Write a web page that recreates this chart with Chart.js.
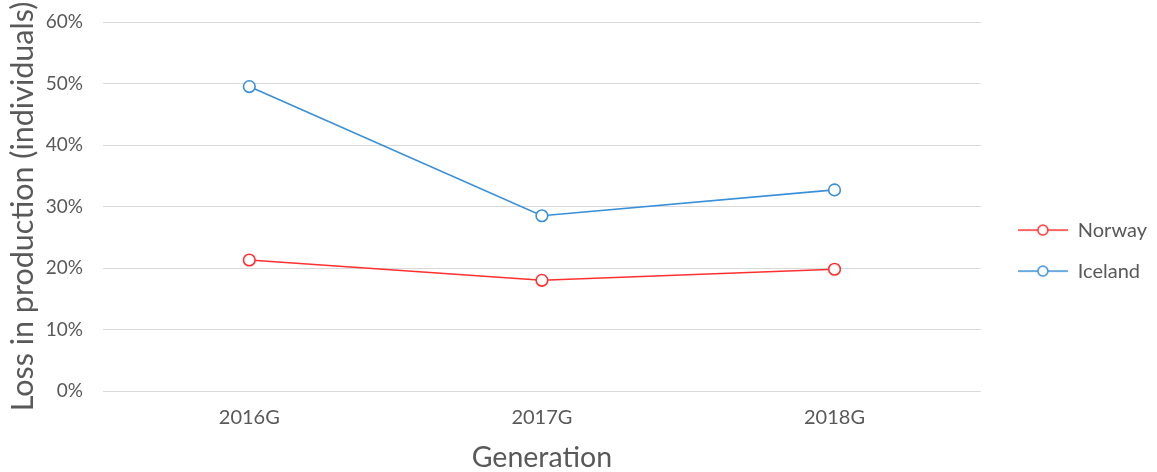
<!DOCTYPE html>
<html>
<head>
<meta charset="utf-8">
<script src="https://cdn.jsdelivr.net/npm/chart.js@4/dist/chart.umd.min.js"></script>
<style>
  html, body { margin: 0; padding: 0; background: #ffffff; }
  #wrap { width: 1157px; height: 472px; position: relative; }
</style>
</head>
<body>
<div id="wrap"><canvas id="chart"></canvas></div>
<script>
// Loss in production per generation, in percent of individuals
const generations = ['2016G', '2017G', '2018G'];
const norwayLoss = [21.3, 18.0, 19.8];
const icelandLoss = [49.5, 28.5, 32.7];
const yTicks = [0, 10, 20, 30, 40, 50, 60];

const FONT = 'Lato, "Open Sans", "DejaVu Sans", sans-serif';
const TEXT = '#595959';
const RED = '#ff3030';
const BLUE = '#3a8fd9';

// Legend swatch: a short line with an open circle in the middle
function swatch(color) {
  const c = document.createElement('canvas');
  c.width = 50; c.height = 14;
  const g = c.getContext('2d');
  g.strokeStyle = color;
  g.lineWidth = 1.5;
  g.beginPath(); g.moveTo(0, 7); g.lineTo(50, 7); g.stroke();
  g.beginPath(); g.arc(25, 7, 5, 0, Math.PI * 2);
  g.fillStyle = '#ffffff'; g.fill(); g.stroke();
  return c;
}

const series = [
  { label: 'Norway', data: norwayLoss, color: RED },
  { label: 'Iceland', data: icelandLoss, color: BLUE }
];

new Chart(document.getElementById('chart'), {
  type: 'line',
  data: {
    labels: generations,
    datasets: series.map(s => ({
      label: s.label,
      data: s.data,
      borderColor: s.color,
      backgroundColor: '#ffffff',
      borderWidth: 1.6,
      pointRadius: 5.8,
      pointBorderWidth: 1.6,
      pointBackgroundColor: '#ffffff',
      pointBorderColor: s.color,
      pointStyle: 'circle',
      tension: 0,
      fill: false
    }))
  },
  options: {
    responsive: true,
    maintainAspectRatio: false,
    animation: false,
    layout: { padding: { left: 0, right: 0, top: 22, bottom: 0 } },
    plugins: {
      tooltip: { enabled: false },
      legend: {
        position: 'right',
        align: 'center',
        title: { display: true, text: ' ', padding: { top: 6, bottom: 0 }, font: { size: 1 } },
        labels: {
          usePointStyle: true,
          pointStyleWidth: 50,
          padding: 21,
          color: TEXT,
          font: { family: FONT, size: 20 },
          generateLabels: chart => chart.data.datasets.map((ds, i) => ({
            text: ds.label,
            pointStyle: swatch(ds.borderColor),
            fontColor: TEXT,
            lineWidth: 0,
            strokeStyle: ds.borderColor,
            fillStyle: '#ffffff',
            hidden: false,
            datasetIndex: i
          }))
        }
      }
    },
    scales: {
      x: {
        offset: true,
        grid: { display: false, drawTicks: false },
        border: { display: false },
        ticks: { color: TEXT, font: { family: FONT, size: 20 }, padding: 15 },
        title: {
          display: true, text: 'Generation', color: TEXT,
          font: { family: FONT, size: 28.5, lineHeight: 1 }, padding: { top: 10, bottom: 0 }
        },
        afterFit: s => { s.height = 81; }
      },
      y: {
        min: 0,
        max: 60,
        afterBuildTicks: s => { s.ticks = yTicks.map(v => ({ value: v })); },
        grid: { color: '#d9d9d9', lineWidth: 1, drawTicks: false },
        border: { display: false },
        ticks: {
          color: TEXT, font: { family: FONT, size: 19 }, padding: 20,
          callback: v => v + '%'
        },
        title: {
          display: true, text: 'Loss in production (individuals)', color: TEXT,
          font: { family: FONT, size: 30.5 }, padding: { top: 5, bottom: 0 }
        },
        afterFit: s => { s.width = 103; s.paddingTop = 0; s.paddingBottom = 0; }
      },
      // empty spacer between the plot and the legend
      gap: {
        type: 'linear',
        position: 'right',
        display: true,
        grid: { display: false },
        border: { display: false },
        ticks: { display: false },
        afterFit: s => { s.width = 16; }
      }
    }
  }
});
</script>
</body>
</html>
